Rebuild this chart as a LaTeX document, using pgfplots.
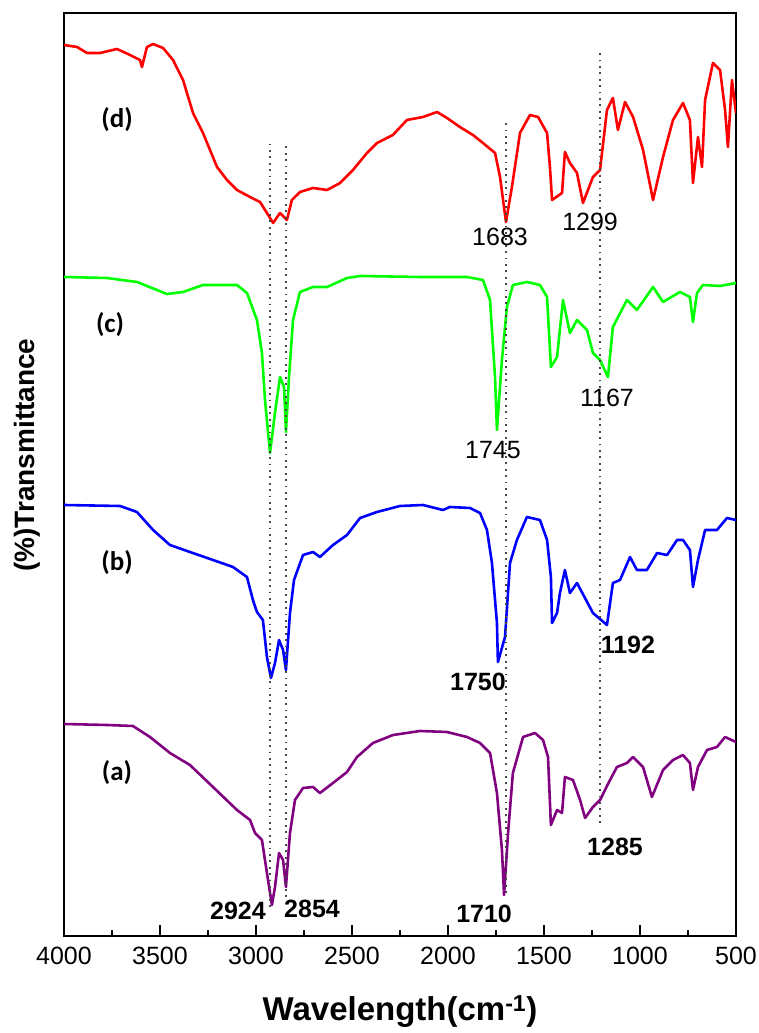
\documentclass[border=0pt]{standalone}
\usepackage{fontspec}
\setmainfont{Liberation Sans}
\newfontfamily\calfont{Carlito}
\usepackage{pgfplots}
\pgfplotsset{compat=1.18}
\definecolor{lgreen}{RGB}{0,255,0}
\definecolor{purp}{RGB}{128,0,128}
\definecolor{dotc}{RGB}{70,70,70}

\begin{document}
\begin{tikzpicture}
\useasboundingbox (-64bp,-97bp) rectangle (695bp,936bp);
\begin{axis}[
  at={(0,0)}, anchor=south west,
  scale only axis, width=672bp, height=923bp,
  x dir=reverse,
  xmin=500, xmax=4000, ymin=0, ymax=923,
  xtick={500,1000,...,4000}, minor x tick num=1,
  ytick=\empty,
  xtick pos=bottom, tick align=inside,
  major tick length=11bp, minor tick length=6bp,
  tick style={black, line width=1.5pt},
  axis line style={line width=2pt},
  xticklabel style={font=\fontsize{25bp}{30bp}\selectfont, yshift=-8bp,
    /pgf/number format/1000 sep={}, /pgf/number format/assume math mode=true},
  xlabel={\bfseries Wavelength(cm\textsuperscript{-1})},
  xlabel style={font=\fontsize{33bp}{40bp}\selectfont,
    at={(axis description cs:0.5,-0.082)}, anchor=center},
  ylabel={\bfseries (\%)Transmittance},
  ylabel style={font=\fontsize{28bp}{34bp}\selectfont,
    at={(axis description cs:-0.054,0.521)}, anchor=center},
  every axis plot/.append style={line width=2.6pt, line join=round},
  clip=true,
]
% (d)
\addplot[red] coordinates {
(4000,891) (3932,889) (3880,883) (3812,883) (3724,887) (3656,881) (3604,876)
(3594,869) (3568,889) (3536,892) (3484,888) (3432,876) (3380,856) (3328,823)
(3276,803) (3203,769) (3151,756) (3099,746) (3031,739) (2979,734) (2943,723)
(2911,713) (2875,723) (2839,716) (2813,736) (2771,744) (2703,748) (2630,746)
(2562,753) (2495,766) (2422,783) (2370,793) (2287,801) (2214,816) (2130,819)
(2057,824) (2005,818) (1938,809) (1870,801) (1818,793) (1755,783) (1729,759)
(1698,714) (1667,749) (1625,803) (1573,821) (1531,819) (1484,803) (1469,769)
(1458,736) (1406,743) (1391,784) (1365,773) (1328,763) (1297,733) (1245,759)
(1208,766) (1172,826) (1141,838) (1115,806) (1078,834) (1036,819) (984,786)
(932,736) (880,779) (828,816) (776,833) (740,816) (724,753) (698,799)
(677,769) (661,836) (620,873) (583,866) (557,826) (542,789) (521,856) (500,823)
};
% (c)
\addplot[lgreen] coordinates {
(4000,659) (3776,658) (3620,654) (3464,642) (3380,644) (3276,651) (3099,651)
(3047,643) (2995,616) (2969,583) (2953,536) (2927,483) (2901,523) (2875,559)
(2854,549) (2844,504) (2828,559) (2807,616) (2771,644) (2703,649) (2630,649)
(2526,658) (2458,660) (2146,659) (1901,659) (1818,656) (1781,636) (1755,559)
(1745,506) (1719,576) (1693,629) (1662,651) (1589,654) (1521,651) (1484,639)
(1464,569) (1432,579) (1401,636) (1365,603) (1328,616) (1276,606) (1245,583)
(1208,576) (1167,559) (1141,609) (1068,636) (1016,626) (932,649) (880,634)
(792,644) (740,639) (724,614) (703,643) (672,651) (583,650) (500,653)
};
% (b)
\addplot[blue] coordinates {
(4000,431) (3708,430) (3620,424) (3536,406) (3448,391) (3344,384) (3224,376)
(3120,369) (3047,359) (3016,336) (2995,324) (2964,316) (2943,279) (2922,258)
(2901,273) (2880,296) (2859,286) (2844,266) (2823,323) (2802,356) (2755,381)
(2703,384) (2667,379) (2599,391) (2526,401) (2458,418) (2370,424) (2250,430)
(2130,431) (2026,426) (1990,429) (1885,428) (1833,423) (1797,406) (1771,373)
(1745,313) (1740,274) (1703,299) (1677,373) (1641,396) (1589,419) (1521,416)
(1484,396) (1464,359) (1458,313) (1432,323) (1417,343) (1391,366) (1365,343)
(1328,353) (1245,323) (1172,311) (1141,353) (1104,356) (1052,379) (1016,366)
(964,366) (911,383) (859,381) (807,396) (776,396) (740,386) (724,349)
(698,376) (661,406) (599,406) (547,418) (500,416)
};
% (a)
\addplot[purp] coordinates {
(4000,212) (3776,211) (3641,210) (3552,199) (3448,183) (3344,171) (3224,149)
(3099,126) (3031,116) (3005,103) (2969,96) (2943,63) (2917,31) (2901,49)
(2880,83) (2859,76) (2844,49) (2823,103) (2797,136) (2755,148) (2703,149)
(2667,143) (2599,153) (2526,164) (2474,179) (2391,193) (2286,201) (2146,205)
(2005,204) (1901,199) (1833,193) (1781,183) (1745,143) (1719,86) (1708,41)
(1687,103) (1662,163) (1609,199) (1547,203) (1505,196) (1479,179) (1464,111)
(1432,126) (1406,123) (1391,159) (1349,156) (1312,136) (1286,118) (1245,129)
(1208,136) (1156,156) (1120,169) (1068,173) (1036,179) (984,169) (938,139)
(880,166) (828,176) (776,181) (740,173) (724,146) (698,169) (651,186)
(599,189) (557,199) (500,194)
};
% dotted guide lines
\addplot[dotc, line width=1.8bp, dash pattern=on 1.8bp off 4.6bp] coordinates {(2927,29) (2927,796)};
\addplot[dotc, line width=1.8bp, dash pattern=on 1.8bp off 4.6bp] coordinates {(2845,39) (2845,793)};
\addplot[dotc, line width=1.8bp, dash pattern=on 1.8bp off 4.6bp] coordinates {(1698,43) (1698,813)};
\addplot[dotc, line width=1.8bp, dash pattern=on 1.8bp off 4.6bp] coordinates {(1208,113) (1208,887)};

% curve names
\node[font=\calfont\bfseries\fontsize{27bp}{32bp}\selectfont] at (axis cs:3724,816) {(d)};
\node[font=\calfont\bfseries\fontsize{27bp}{32bp}\selectfont] at (axis cs:3760,611) {(c)};
\node[font=\calfont\bfseries\fontsize{27bp}{32bp}\selectfont] at (axis cs:3724,373) {(b)};
\node[font=\calfont\bfseries\fontsize{27bp}{32bp}\selectfont] at (axis cs:3724,163) {(a)};

% peak labels
\node[font=\fontsize{25bp}{30bp}\selectfont] at (axis cs:1729,699) {1683};
\node[font=\fontsize{25bp}{30bp}\selectfont] at (axis cs:1260,714) {1299};
\node[font=\fontsize{25bp}{30bp}\selectfont] at (axis cs:1766,486) {1745};
\node[font=\fontsize{25bp}{30bp}\selectfont] at (axis cs:1172,538) {1167};
\node[font=\bfseries\fontsize{25bp}{30bp}\selectfont] at (axis cs:1844,254) {1750};
\node[font=\bfseries\fontsize{25bp}{30bp}\selectfont] at (axis cs:1063,291) {1192};
\node[font=\bfseries\fontsize{25bp}{30bp}\selectfont] at (axis cs:3094,25) {2924};
\node[font=\bfseries\fontsize{25bp}{30bp}\selectfont] at (axis cs:2708,27) {2854};
\node[font=\bfseries\fontsize{25bp}{30bp}\selectfont] at (axis cs:1812,22) {1710};
\node[font=\bfseries\fontsize{25bp}{30bp}\selectfont] at (axis cs:1130,89) {1285};
\end{axis}
\end{tikzpicture}
\end{document}
